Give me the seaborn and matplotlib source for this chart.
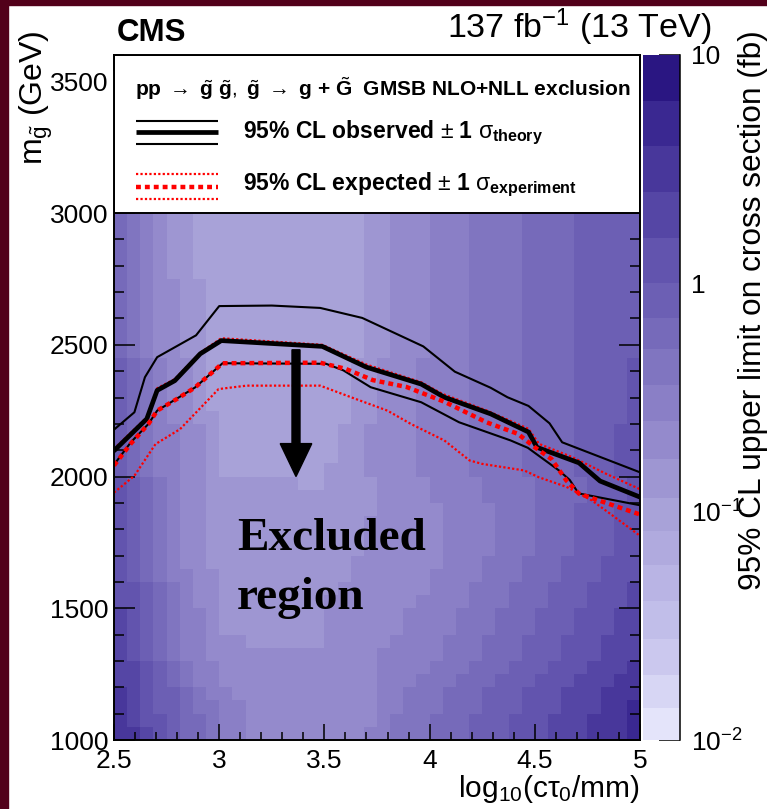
import numpy as np
import pandas as pd
import matplotlib
matplotlib.use("Agg")
import matplotlib.pyplot as plt
import seaborn as sns
from matplotlib.colors import ListedColormap, BoundaryNorm
from matplotlib.patches import Rectangle, FancyArrow
from matplotlib.ticker import MultipleLocator, FormatStrFormatter, FixedLocator, FixedFormatter, LogLocator, NullFormatter

# ---------------- data ----------------
# grid of the limit map
x_edges = np.linspace(2.5, 5.0, 41)       # log10(c tau0 / mm) bins
m_edges = np.linspace(1000, 3000, 41)     # gluino mass bins (GeV)

# colour-band edges of the z axis (log10 of fb)
band_edges_log = [-2.0, -1.862, -1.715, -1.557, -1.39, -1.233, -1.085, -0.938,
                  -0.77, -0.603, -0.446, -0.289, -0.151, 0.0, 0.2, 0.4, 0.6, 0.8, 1.0]
band_colors = ["#e4e4fa", "#d7d6f4", "#cbc8ee", "#c1bee9", "#b9b4e4", "#b0aade",
               "#a8a2d8", "#9e96d2", "#948acc", "#8a7fc6", "#8075c0", "#766aba",
               "#6c5fb4", "#6254ae", "#5546a5", "#48379b", "#3a2891", "#2a1682"]

# band index (base 36 digit) of every cell; first string = top row (2950-3000 GeV)
limit_rows = [
    "ba9877" "66666" "66666" "666" "77" "888" "999" "aaaa" "bbbb" "ccccc",
    "ba9877" "66666" "66666" "666" "77" "888" "999" "aaaa" "bbbb" "ccccc",
    "ba9877" "66666" "66666" "666" "77" "888" "999" "aaaa" "bbbb" "ccccc",
    "ba9877" "66666" "66666" "666" "77" "888" "999" "aaaa" "bbbb" "ccccc",
    "ba9877" "66666" "66666" "666" "77" "888" "999" "aaaa" "bbbb" "ccccc",
    "ba98877" "66666" "66666" "66" "77" "888" "999" "aaaa" "bbbb" "ccccc",
    "ba98877" "66666" "66666" "66" "77" "888" "999" "aaaa" "bbbb" "ccccc",
    "ba98877" "66666" "66666" "66" "77" "888" "999" "aaaa" "bbbb" "ccccc",
    "ba98877" "66666" "66666" "66" "77" "888" "999" "aaaa" "bbbb" "ccccc",
    "ba98877" "66666" "66666" "66" "77" "888" "999" "aaaa" "bbbb" "ccccc",
    "ba98877" "66666" "66666" "66" "77" "888" "999" "aaaa" "bbbb" "ccccc",
    "cba9887" "66666" "66666" "6" "77" "888" "9999" "aaaa" "bbbb" "cccc" "d",
    "cba9887" "66666" "66666" "6" "77" "888" "9999" "aaaa" "bbbb" "cccc" "d",
    "cba9887" "66666" "66666" "6" "77" "888" "9999" "aaaa" "bbbb" "cccc" "d",
    "cba9887" "66666" "66666" "6" "77" "888" "9999" "aaaa" "bbbb" "cccc" "d",
    "cba98877" "66666" "66666" "77" "888" "9999" "aaaa" "bbbb" "cccc" "d",
    "cba99887" "66666" "6666" "77" "8888" "9999" "aaaa" "bbbb" "ccc" "dd",
    "cba99887" "66666" "6666" "77" "8888" "9999" "aaaa" "bbbb" "ccc" "dd",
    "cba99887" "66666" "6666" "77" "8888" "9999" "aaaa" "bbbb" "ccc" "dd",
    "cba99887" "66666" "666" "777" "8888" "9999" "aaaa" "bbbb" "ccc" "dd",
    "dcba988" "77777" "77" "66" "7777" "8888" "9999" "aaaa" "bbbb" "ccc" "d",
    "dcba988" "77777" "77" "77" "7777" "8888" "9999" "aaaa" "bbbb" "ccc" "d",
    "dcba988" "77777" "77777" "777" "88888" "9999" "aaa" "bbb" "ccc" "dd",
    "dcba988" "77777" "77777" "77" "88888" "8" "9999" "aaa" "bbb" "ccc" "dd",
    "dcba988" "77777" "77777" "77" "88888" "8" "9999" "aaa" "bbb" "ccc" "dd",
    "dcba988" "77777" "77777" "77" "88888" "8" "9999" "aaa" "bbb" "ccc" "dd",
    "dcba988" "77777" "77777" "7" "88888" "88" "999" "aaa" "bbb" "ccc" "ddd",
    "dcba9988" "77777" "77777" "88888" "8" "9999" "aaa" "bbb" "ccc" "ddd",
    "ddcba988" "77777" "7777" "88888" "88" "999" "aaa" "bbb" "ccc" "ddd" "e",
    "ddcba988" "77777" "777" "88888" "88" "9999" "aaa" "bbb" "ccc" "ddd" "e",
    "edcba998" "77777" "777" "88888" "8" "9999" "aaa" "bbb" "ccc" "ddd" "ee",
    "edcba998" "77777" "777" "88888" "8" "9999" "aaa" "bbb" "ccc" "ddd" "ee",
    "edcba998" "88" "77777" "7" "88888" "9999" "aaa" "bbb" "ccc" "ddd" "eee",
    "edcba99" "88888" "88888" "888" "99999" "aaa" "bbb" "ccc" "ddd" "eee",
    "eedcba99" "88888" "88888" "88" "9999" "aaa" "bbb" "ccc" "ddd" "eee" "f",
    "eedcba99" "88888" "88888" "88" "999" "aaa" "bbb" "ccc" "ddd" "eee" "ff",
    "fedccba99" "88888" "88888" "8" "99" "aaa" "bbb" "ccc" "ddd" "eee" "fff",
    "fedccbaa99" "88888" "88888" "99" "aaa" "bbb" "ccc" "ddd" "eee" "ff" "g",
    "feddcbba99" "88888" "88888" "9" "aaa" "bbb" "ccc" "ddd" "eee" "fff" "g",
    "ffedcbba99" "88888" "8888" "99" "aaa" "bbb" "ccc" "ddd" "eee" "fff" "g",
]

# exclusion contours (x = log10(c tau0/mm), m = gluino mass in GeV)
obs_x = [2.5, 2.656, 2.705, 2.789, 2.91, 3.01, 3.49, 3.70, 3.96, 4.07, 4.29, 4.47, 4.51, 4.71, 4.81, 5.0]
obs_m = [2098, 2219, 2327, 2364, 2466, 2516, 2494, 2415, 2351, 2301, 2238, 2169, 2111, 2052, 1983, 1922]
obs_up_x = [2.5, 2.597, 2.647, 2.705, 2.89, 3.0, 3.25, 3.48, 3.68, 3.97, 4.12, 4.29, 4.37, 4.47, 4.57, 4.63, 5.0]
obs_up_m = [2178, 2244, 2377, 2453, 2536, 2647, 2649, 2640, 2602, 2494, 2398, 2337, 2301, 2268, 2202, 2130, 2016]
obs_dn_x = [2.5, 2.58, 2.664, 2.705, 2.885, 3.016, 3.508, 3.59, 3.72, 3.88, 3.96, 4.14, 4.385, 4.467, 4.615, 4.666, 4.708, 5.0]
obs_dn_m = [2045, 2130, 2200, 2250, 2338, 2430, 2428, 2403, 2339, 2301, 2282, 2206, 2137, 2109, 2023, 1987, 1936, 1891]
exp_x = [2.5, 2.58, 2.664, 2.705, 2.80, 2.885, 3.016, 3.48, 3.6, 3.73, 3.89, 4.07, 4.27, 4.42, 4.50, 4.58, 4.65, 4.71, 5.0]
exp_m = [2042, 2125, 2200, 2250, 2295, 2338, 2430, 2432, 2409, 2366, 2340, 2284, 2206, 2162, 2111, 2066, 1985, 1935, 1856]
exp_up_x = [2.5, 2.656, 2.705, 2.789, 2.91, 3.01, 3.49, 3.70, 3.96, 4.06, 4.27, 4.47, 4.52, 4.68, 4.84, 5.0]
exp_up_m = [2105, 2225, 2335, 2370, 2470, 2525, 2500, 2425, 2358, 2314, 2251, 2181, 2124, 2073, 2010, 1952]
exp_dn_x = [2.5, 2.597, 2.697, 2.814, 2.997, 3.13, 3.48, 3.63, 3.80, 3.91, 4.07, 4.19, 4.25, 4.45, 4.52, 4.65, 4.77, 4.88, 5.0]
exp_dn_m = [1939, 2003, 2123, 2180, 2332, 2345, 2345, 2300, 2250, 2200, 2137, 2061, 2048, 2023, 1997, 1961, 1910, 1846, 1775]

x_ticks = [2.5, 3, 3.5, 4, 4.5, 5]
m_ticks = [1000, 1500, 2000, 2500, 3000, 3500]
z_ticks = [0.01, 0.1, 1, 10]
z_tick_labels = ["$10^{-2}$", "$10^{-1}$", "1", "10"]

# ---------------- style ----------------
sns.set_theme(style="ticks")
plt.rcParams["font.family"] = ["Liberation Sans", "DejaVu Sans"]
plt.rcParams["text.color"] = "black"
plt.rcParams["mathtext.fontset"] = "custom"
plt.rcParams["mathtext.rm"] = "Liberation Sans"
plt.rcParams["mathtext.it"] = "Liberation Sans"
plt.rcParams["mathtext.bf"] = "Liberation Sans:bold"
plt.rcParams["mathtext.sf"] = "Liberation Sans"

W, H = 767, 809
fig = plt.figure(figsize=(W / 100, H / 100), dpi=100)
fig.patch.set_facecolor("white")

def fx(px):
    return px / W

def fy(py):
    return 1 - py / H

# maroon page border
fig.add_artist(Rectangle((0, 0), fx(8), 1, transform=fig.transFigure, color="#52001a", zorder=10))
fig.add_artist(Rectangle((0, fy(5)), 1, fy(0) - fy(5), transform=fig.transFigure, color="#52001a", zorder=10))

ax = fig.add_axes([fx(114), fy(740), fx(640) - fx(114), fy(55) - fy(740)])
cax = fig.add_axes([fx(643), fy(740), fx(680) - fx(643), fy(55) - fy(740)])

# ---------------- limit map ----------------
idx = np.array([[int(ch, 36) for ch in row] for row in limit_rows[::-1]])
edges = np.array(band_edges_log)
centers = 0.5 * (edges[:-1] + edges[1:])
Z = 10 ** centers[idx]
cmap = ListedColormap(band_colors)
norm = BoundaryNorm(10 ** edges, cmap.N)
ax.pcolormesh(x_edges, m_edges, Z, cmap=cmap, norm=norm, shading="flat",
              linewidth=0, antialiased=False, zorder=0)

# ---------------- contours ----------------
def draw(xs, ms, **kw):
    df = pd.DataFrame({"x": xs, "m": ms})
    sns.lineplot(data=df, x="x", y="m", sort=False, estimator=None, ax=ax,
                 legend=False, zorder=2.0, **kw)

draw(obs_up_x, obs_up_m, color="black", linewidth=1.5)
draw(obs_dn_x, obs_dn_m, color="black", linewidth=1.5)
draw(exp_up_x, exp_up_m, color="#ff0000", linewidth=1.6, linestyle=(0, (1.0, 1.0)))
draw(exp_dn_x, exp_dn_m, color="#ff0000", linewidth=1.6, linestyle=(0, (1.0, 1.0)))
draw(obs_x, obs_m, color="black", linewidth=3.4)
draw(exp_x, exp_m, color="#ff0000", linewidth=3.2, linestyle=(0, (1.1, 0.9)))

# arrow and label
ax.add_patch(FancyArrow(3.365, 2481, 0, -481, width=0.038, head_width=0.15,
                        head_length=125, length_includes_head=True,
                        color="black", zorder=2.1))
ax.text(3.085, 1722, "Excluded", family=["Liberation Serif"], fontweight="bold",
        fontsize=34, va="baseline", ha="left", zorder=2.1, color="black")
ax.text(3.085, 1497, "region", family=["Liberation Serif"], fontweight="bold",
        fontsize=34, va="baseline", ha="left", zorder=2.1, color="black")

# ---------------- legend box ----------------
ax.add_patch(Rectangle((0, (3000 - 1000) / 2600), 1, 1 - (3000 - 1000) / 2600,
                       transform=ax.transAxes, facecolor="white", edgecolor="black",
                       linewidth=1.4, zorder=2.2))
ax.text(0.040, 0.951,
        r"$\mathbf{pp}\ \rightarrow\ \tilde{\mathbf{g}}\ \tilde{\mathbf{g}},\ \tilde{\mathbf{g}}\ \rightarrow\ \mathbf{g}\ \mathbf{+}\ \tilde{\mathbf{G}}$  GMSB NLO+NLL exclusion",
        transform=ax.transAxes, fontsize=15, fontweight="bold", va="center", ha="left", zorder=2.3)
lx = [0.042, 0.198]
for yy, lw in [(0.904, 1.5), (0.888, 3.4), (0.870, 1.5)]:
    ax.plot(lx, [yy, yy], transform=ax.transAxes, color="black", lw=lw, zorder=2.3,
            solid_capstyle="butt")
for yy, lw, ls in [(0.827, 1.6, (0, (1.0, 1.0))), (0.808, 3.2, (0, (1.1, 0.9))), (0.790, 1.6, (0, (1.0, 1.0)))]:
    ax.plot(lx, [yy, yy], transform=ax.transAxes, color="#ff0000", lw=lw, ls=ls, zorder=2.3)
ax.text(0.246, 0.887, r"95% CL observed $\pm$ 1 $\sigma_{\mathbf{theory}}$",
        transform=ax.transAxes, fontsize=16.5, fontweight="bold", va="center", ha="left", zorder=2.3)
ax.text(0.246, 0.810, r"95% CL expected $\pm$ 1 $\sigma_{\mathbf{experiment}}$",
        transform=ax.transAxes, fontsize=16.5, fontweight="bold", va="center", ha="left", zorder=2.3)

# ---------------- axes ----------------
ax.set_xlim(2.5, 5.0)
ax.set_ylim(1000, 3600)
ax.set_xlabel("")
ax.set_ylabel("")
ax.xaxis.set_major_locator(FixedLocator(x_ticks))
ax.xaxis.set_minor_locator(MultipleLocator(0.1))
ax.yaxis.set_major_locator(FixedLocator(m_ticks))
ax.yaxis.set_minor_locator(MultipleLocator(100))
ax.xaxis.set_major_formatter(FormatStrFormatter("%g"))
ax.yaxis.set_major_formatter(FormatStrFormatter("%g"))
ax.tick_params(which="both", direction="in", top=True, right=True, width=1.1, color="black",
               labelsize=19, labelcolor="black")
ax.tick_params(axis="x", which="major", length=11.4, pad=6.5)
ax.tick_params(axis="x", which="minor", length=5.7)
ax.tick_params(axis="y", which="major", length=14.8, pad=4)
ax.tick_params(axis="y", which="minor", length=7.4)
for sp in ax.spines.values():
    sp.set_linewidth(1.4)
    sp.set_color("black")
    sp.set_visible(True)

# ---------------- colour bar ----------------
cax.pcolormesh([0, 1], 10 ** edges, 10 ** centers[:, None], cmap=cmap, norm=norm,
               shading="flat", linewidth=0, antialiased=False)
cax.set_yscale("log")
cax.set_ylim(0.01, 10)
cax.set_xlim(0, 1)
cax.set_xticks([])
cax.yaxis.set_ticks_position("right")
cax.yaxis.set_major_locator(FixedLocator(z_ticks))
cax.yaxis.set_major_formatter(FixedFormatter(z_tick_labels))
cax.yaxis.set_minor_locator(LogLocator(base=10, subs=np.arange(2, 10)))
cax.yaxis.set_minor_formatter(NullFormatter())
cax.tick_params(axis="y", which="both", direction="in", width=1.1, color="black",
                labelsize=19, labelcolor="black", pad=8)
cax.tick_params(axis="y", which="major", length=14.8)
cax.tick_params(axis="y", which="minor", length=7.4)
for side in ["left", "top", "bottom"]:
    cax.spines[side].set_visible(False)
cax.spines["right"].set_linewidth(1.1)
cax.spines["right"].set_color("black")

# ---------------- titles and labels ----------------
fig.text(fx(117), fy(41), "CMS", fontsize=22.5, fontweight="bold", ha="left", va="baseline")
fig.text(fx(712), fy(38), r"137 fb$^{-1}$ (13 TeV)", fontsize=24.5, ha="right", va="baseline")
fig.text(fx(640), fy(797), r"log$_{10}$(c$\tau_{0}$/mm)", fontsize=21.5, ha="right", va="baseline")
fig.text(fx(36), fy(30), r"m$_{\tilde{\mathrm{g}}}$ (GeV)", fontsize=23, rotation=90,
         ha="center", va="top")
fig.text(fx(753), fy(30), "95% CL upper limit on cross section (fb)", fontsize=22.8,
         rotation=90, ha="center", va="top")

fig.savefig("out.png", dpi=100, facecolor="white")
